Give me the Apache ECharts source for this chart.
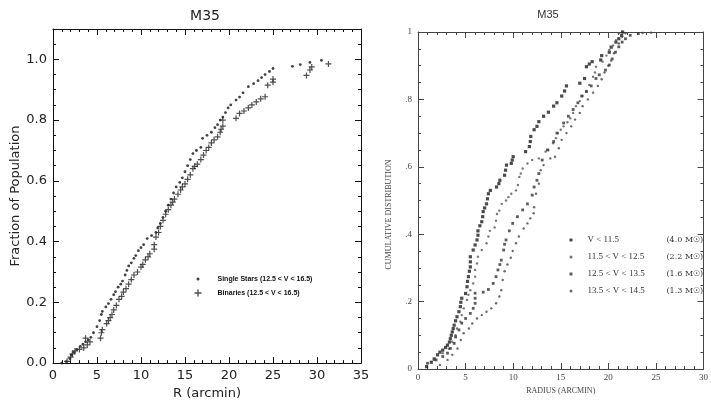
<!DOCTYPE html>
<html><head><meta charset="utf-8">
<script src="https://cdn.jsdelivr.net/npm/echarts@6/dist/echarts.min.js"></script>
<style>html,body{margin:0;padding:0;background:#fff}#c{width:711px;height:405px}</style>
</head><body><div id="c"></div>
<script>
// ---------- Panel a data: [R (arcmin), fraction] ----------
const singlesName = 'Single Stars (12.5 < V < 16.5)';
const binariesName = 'Binaries (12.5 < V < 16.5)';
const singles = [[1.0,0.0],[1.5,0.005],[1.9,0.015],[2.1,0.027],[2.4,0.035],[2.7,0.045],[3.1,0.055],[3.4,0.062],[3.7,0.07],[4.0,0.076],[4.3,0.085],[4.6,0.1],[5.0,0.12],[5.3,0.14],[5.5,0.16],[5.6,0.17],[6.0,0.185],[6.3,0.196],[6.6,0.21],[6.9,0.225],[7.1,0.235],[7.4,0.25],[7.7,0.26],[7.9,0.27],[8.2,0.29],[8.4,0.305],[8.6,0.32],[8.9,0.33],[9.2,0.345],[9.4,0.354],[9.7,0.37],[10.0,0.38],[10.3,0.39],[10.7,0.41],[11.2,0.42],[11.7,0.43],[11.9,0.445],[12.2,0.46],[12.5,0.48],[12.8,0.50],[13.1,0.52],[13.4,0.54],[13.7,0.56],[14.0,0.58],[14.4,0.595],[14.7,0.61],[15.0,0.63],[15.3,0.65],[15.6,0.67],[15.9,0.69],[16.3,0.70],[16.8,0.71],[17.0,0.74],[17.5,0.75],[18.0,0.76],[18.4,0.775],[18.7,0.785],[19.0,0.80],[19.3,0.81],[19.6,0.825],[19.9,0.84],[20.2,0.85],[20.8,0.866],[21.2,0.876],[21.6,0.89],[22.2,0.91],[22.8,0.92],[23.3,0.93],[23.7,0.94],[24.1,0.95],[24.6,0.96],[25.0,0.97],[27.2,0.977],[28.1,0.983],[29.2,0.99],[30.5,0.997]];
const binaries = [[1.6,0.006],[2.0,0.02],[2.2,0.03],[2.5,0.04],[3.0,0.045],[3.5,0.05],[3.9,0.06],[4.2,0.07],[3.7,0.082],[5.4,0.082],[5.5,0.1],[5.6,0.11],[6.1,0.13],[6.3,0.14],[6.5,0.15],[6.7,0.16],[6.9,0.175],[7.2,0.19],[7.5,0.21],[7.8,0.22],[8.0,0.234],[8.3,0.245],[8.6,0.26],[8.9,0.275],[9.2,0.29],[9.6,0.3],[10.0,0.316],[10.2,0.325],[10.5,0.34],[10.8,0.35],[11.0,0.36],[11.5,0.375],[11.5,0.39],[11.7,0.415],[12.0,0.43],[12.2,0.45],[12.5,0.47],[12.8,0.49],[13.1,0.505],[13.4,0.52],[13.6,0.53],[13.8,0.54],[14.2,0.556],[14.5,0.57],[14.7,0.58],[15.0,0.59],[15.3,0.605],[15.6,0.62],[15.9,0.64],[16.1,0.648],[16.4,0.655],[16.8,0.67],[17.1,0.685],[17.4,0.70],[17.7,0.71],[18.0,0.725],[18.3,0.735],[18.7,0.745],[19.0,0.76],[19.1,0.77],[19.3,0.78],[19.3,0.80],[20.8,0.806],[21.2,0.822],[21.7,0.83],[22.2,0.84],[22.6,0.85],[23.1,0.86],[23.6,0.87],[24.1,0.877],[24.4,0.915],[25.0,0.925],[25.0,0.935],[28.8,0.947],[29.2,0.965],[29.4,0.975],[31.3,0.985]];

// ---------- Panel b data: [radius (arcmin), cumulative] ----------
const bNames = ['V < 11.5', '11.5 < V < 12.5', '12.5 < V < 13.5', '13.5 < V < 14.5'];
const bMasses = ['(4.0 M\u2609)', '(2.2 M\u2609)', '(1.6 M\u2609)', '(1.3 M\u2609)'];
const b1 = [[0.9,0.007],[1.4,0.02],[1.7,0.03],[2.05,0.042],[2.3,0.05],[2.6,0.056],[2.9,0.064],[3.1,0.071],[3.3,0.08],[3.4,0.09],[3.5,0.1],[3.6,0.11],[3.7,0.12],[3.8,0.13],[3.95,0.143],[4.1,0.155],[4.3,0.17],[4.45,0.185],[4.5,0.198],[4.6,0.21],[5.0,0.224],[5.15,0.244],[5.2,0.26],[5.3,0.274],[5.4,0.29],[5.5,0.303],[5.5,0.318],[5.5,0.333],[5.8,0.353],[6.0,0.368],[6.2,0.383],[6.3,0.397],[6.3,0.41],[6.5,0.425],[6.7,0.437],[6.8,0.452],[6.85,0.467],[7.0,0.478],[7.2,0.49],[7.3,0.505],[7.4,0.52],[7.6,0.53],[8.25,0.54],[8.5,0.55],[8.6,0.56],[9.1,0.575],[9.2,0.59],[9.3,0.605],[9.8,0.61],[9.9,0.62],[10.0,0.63],[11.3,0.645],[11.7,0.66],[11.8,0.675],[11.85,0.69],[12.2,0.71],[12.5,0.72],[12.7,0.734],[13.2,0.75],[13.7,0.762],[14.25,0.78],[14.6,0.79],[15.1,0.81],[15.4,0.825],[15.6,0.84],[17.0,0.848],[17.5,0.862],[17.7,0.897],[18.0,0.905],[18.3,0.912],[19.2,0.917],[19.3,0.93],[20.1,0.94],[20.3,0.955],[20.8,0.97],[21.1,0.98],[21.4,0.99],[21.5,1.0]];
const b2 = [[1.7,0.027],[2.6,0.047],[3.25,0.06],[3.6,0.081],[3.95,0.1],[4.1,0.12],[4.45,0.14],[4.6,0.16],[4.8,0.18],[5.15,0.205],[5.3,0.22],[5.5,0.234],[5.8,0.254],[6.0,0.274],[6.0,0.294],[6.2,0.313],[6.3,0.333],[6.7,0.353],[7.2,0.373],[7.4,0.393],[7.55,0.41],[8.05,0.42],[8.2,0.44],[8.3,0.46],[8.55,0.47],[8.8,0.49],[9.25,0.50],[9.5,0.51],[9.8,0.52],[10.3,0.53],[10.5,0.546],[10.65,0.57],[10.8,0.58],[11.0,0.595],[11.5,0.61],[12.0,0.62],[12.7,0.625],[13.4,0.645],[13.7,0.65],[14.2,0.67],[14.5,0.685],[14.7,0.70],[15.0,0.71],[15.3,0.72],[15.7,0.732],[16.0,0.744],[16.3,0.76],[16.6,0.78],[17.0,0.795],[17.3,0.81],[17.7,0.825],[18.0,0.843],[18.4,0.867],[18.6,0.88],[18.7,0.897],[19.4,0.912],[19.8,0.93],[20.1,0.947],[20.5,0.96],[20.8,0.976],[21.1,0.996]];
const b3 = [[1.0,0.017],[1.9,0.027],[2.6,0.037],[3.1,0.047],[3.4,0.061],[3.8,0.076],[3.95,0.095],[4.3,0.116],[4.6,0.136],[5.0,0.15],[5.5,0.165],[5.8,0.18],[6.0,0.195],[6.0,0.21],[6.0,0.225],[6.85,0.228],[7.4,0.236],[7.9,0.254],[8.2,0.274],[8.4,0.294],[8.6,0.31],[8.75,0.323],[9.0,0.353],[9.1,0.37],[9.25,0.383],[9.6,0.41],[9.95,0.432],[10.45,0.452],[11.0,0.472],[11.5,0.49],[12.0,0.516],[12.2,0.54],[12.5,0.56],[12.7,0.58],[13.05,0.62],[13.6,0.65],[14.25,0.675],[14.6,0.70],[15.3,0.73],[15.8,0.75],[16.3,0.77],[16.8,0.79],[17.2,0.81],[17.7,0.823],[18.2,0.84],[18.7,0.862],[19.05,0.873],[19.7,0.887],[20.1,0.902],[20.4,0.92],[20.75,0.94],[21.1,0.956],[21.45,0.97],[21.8,0.98],[22.3,0.99],[23.15,0.995]];
const b4 = [[2.3,0.012],[3.1,0.027],[3.6,0.042],[4.15,0.061],[4.5,0.086],[4.8,0.106],[5.35,0.12],[5.7,0.135],[6.2,0.15],[6.7,0.16],[7.2,0.17],[7.7,0.18],[8.2,0.195],[8.55,0.215],[8.75,0.234],[8.9,0.264],[9.1,0.29],[9.4,0.31],[9.75,0.33],[9.95,0.35],[10.3,0.373],[10.6,0.393],[11.1,0.417],[11.5,0.432],[11.8,0.447],[12.15,0.462],[12.2,0.48],[12.4,0.52],[12.7,0.55],[12.9,0.59],[13.2,0.605],[13.9,0.625],[14.4,0.63],[14.8,0.655],[15.1,0.68],[15.6,0.70],[16.1,0.72],[16.5,0.74],[17.0,0.76],[17.3,0.78],[17.85,0.80],[18.4,0.82],[18.9,0.84],[19.3,0.86],[19.6,0.88],[20.0,0.90],[20.3,0.915],[20.6,0.937],[21.1,0.966],[21.45,0.986],[21.8,0.996],[23.6,0.997],[24.5,0.998]];

const plusIcon = 'path://M4,0H6V4H10V6H6V10H4V6H0V4H4Z';

const chart = echarts.init(document.getElementById('c'), null, {renderer:'canvas'});

const aCol = '#111';
const aFont = 'DejaVu Sans';
const bCol = '#444';
const bFont = 'Liberation Serif';

function axisA(extra) {
  return Object.assign({
    type:'value', gridIndex:0, splitLine:{show:false},
    axisLine:{show:true, onZero:false, lineStyle:{color:aCol, width:1}},
    axisTick:{show:true, inside:true, length:6, lineStyle:{color:aCol, width:1}},
    axisLabel:{show:false},
  }, extra);
}
function axisB(extra) {
  return Object.assign({
    type:'value', gridIndex:1, splitLine:{show:false},
    axisLine:{show:true, onZero:false, lineStyle:{color:bCol, width:1}},
    axisTick:{show:true, inside:true, length:6, lineStyle:{color:bCol, width:1}},
    axisLabel:{show:false},
  }, extra);
}
const axLabelA = {show:true, fontFamily:aFont, fontSize:13, color:'#222'};
const axLabelB = {show:true, fontFamily:bFont, fontSize:9, color:'#444'};

const option = {
  animation:false,
  backgroundColor:'#fff',
  title:[
    {text:'M35', left:205, top:9, textAlign:'center', padding:0, textStyle:{fontFamily:aFont, fontSize:14, fontWeight:'normal', color:'#222'}},
    {text:'M35', left:548, top:9, textAlign:'center', padding:0, textStyle:{fontFamily:'Liberation Sans', fontSize:11, fontWeight:'normal', color:'#333'}}
  ],
  grid:[
    {left:53, top:29, width:308, height:336},
    {left:418, top:32, width:292, height:337}
  ],
  xAxis:[
    axisA({min:0, max:35, interval:5, position:'bottom',
      minorTick:{show:true, splitNumber:5, length:3, lineStyle:{color:aCol}},
      axisLabel:Object.assign({margin:6}, axLabelA),
      name:'R (arcmin)', nameLocation:'middle', nameGap:22,
      nameTextStyle:{fontFamily:aFont, fontSize:13, color:'#222'}}),
    axisA({min:0, max:35, interval:5, position:'top',
      minorTick:{show:true, splitNumber:5, length:3, lineStyle:{color:aCol}}}),
    axisB({min:0, max:30, interval:5, position:'bottom',
      minorTick:{show:true, splitNumber:5, length:3, lineStyle:{color:bCol}},
      axisLabel:Object.assign({margin:4}, axLabelB),
      name:'RADIUS (ARCMIN)', nameLocation:'middle', nameGap:9,
      nameTextStyle:{fontFamily:bFont, fontSize:8, color:'#444'}}),
    axisB({min:0, max:30, interval:5, position:'top',
      minorTick:{show:true, splitNumber:5, length:3, lineStyle:{color:bCol}}})
  ],
  yAxis:[
    axisA({min:0, max:1.1, interval:0.2, position:'left',
      minorTick:{show:true, splitNumber:4, length:3, lineStyle:{color:aCol}},
      axisLabel:Object.assign({margin:6, showMaxLabel:false, formatter:v=>v.toFixed(1)}, axLabelA),
      name:'Fraction of Population', nameLocation:'middle', nameGap:31, nameRotate:90,
      nameTextStyle:{fontFamily:aFont, fontSize:13, color:'#222'}}),
    axisA({min:0, max:1.1, interval:0.2, position:'right',
      minorTick:{show:true, splitNumber:4, length:3, lineStyle:{color:aCol}}}),
    axisB({min:0, max:1, interval:0.2, position:'left',
      minorTick:{show:true, splitNumber:4, length:3, lineStyle:{color:bCol}},
      axisLabel:Object.assign({margin:6, formatter:v=>{ if(v===0) return '0'; if(v===1) return '1'; return v.toFixed(1).replace(/^0/,''); }}, axLabelB),
      name:'CUMULATIVE DISTRIBUTION', nameLocation:'middle', nameGap:25, nameRotate:90,
      nameTextStyle:{fontFamily:bFont, fontSize:8, color:'#444', padding:[0,28,0,0]}}),
    axisB({min:0, max:1, interval:0.2, position:'right',
      minorTick:{show:true, splitNumber:4, length:3, lineStyle:{color:bCol}}})
  ],
  legend:[
    {left:191.5, top:270.5, orient:'vertical', selectedMode:false, itemWidth:3, itemHeight:3,
     data:[{name:singlesName, icon:'circle'}],
     textStyle:{fontFamily:'Liberation Sans', fontSize:7, fontWeight:'bold', color:'#111', padding:[0,0,0,13]}},
    {left:189.5, top:284.5, orient:'vertical', selectedMode:false, itemWidth:7, itemHeight:7,
     data:[{name:binariesName, icon:plusIcon}],
     textStyle:{fontFamily:'Liberation Sans', fontSize:7, fontWeight:'bold', color:'#111', padding:[0,0,0,11]}},
    {left:564.5, top:229.5, orient:'vertical', selectedMode:false, itemWidth:3, itemHeight:3, itemGap:6,
     data:[{name:bNames[0], icon:'rect'},{name:bNames[1], icon:'circle'},{name:bNames[2], icon:'rect'},{name:bNames[3], icon:'circle'}],
     formatter:function(n){ const i = bNames.indexOf(n); return '{a|' + n + '}{b|' + bMasses[i] + '}'; },
     textStyle:{fontFamily:bFont, fontSize:9, color:'#333', lineHeight:11, padding:[0,0,0,10],
       rich:{a:{width:79, fontFamily:bFont, fontSize:9, color:'#333'}, b:{fontFamily:'DejaVu Serif', fontSize:8, color:'#333'}}}}
  ],
  series:[
    {name:singlesName, type:'scatter', xAxisIndex:0, yAxisIndex:0, data:singles, symbol:'circle', symbolSize:2.8, itemStyle:{color:'#111'}},
    {name:binariesName, type:'scatter', xAxisIndex:0, yAxisIndex:0, data:binaries, symbol:plusIcon, symbolSize:6, itemStyle:{color:'#222'}},
    {name:bNames[0], type:'scatter', xAxisIndex:2, yAxisIndex:2, data:b1, symbol:'rect', symbolSize:3.2, itemStyle:{color:'#1e1e1e'}},
    {name:bNames[1], type:'scatter', xAxisIndex:2, yAxisIndex:2, data:b2, symbol:'circle', symbolSize:2.4, itemStyle:{color:'#555'}},
    {name:bNames[2], type:'scatter', xAxisIndex:2, yAxisIndex:2, data:b3, symbol:'rect', symbolSize:2.8, itemStyle:{color:'#333'}},
    {name:bNames[3], type:'scatter', xAxisIndex:2, yAxisIndex:2, data:b4, symbol:'circle', symbolSize:2.4, itemStyle:{color:'#444'}}
  ]
};
chart.setOption(option);
</script>
</body></html>
